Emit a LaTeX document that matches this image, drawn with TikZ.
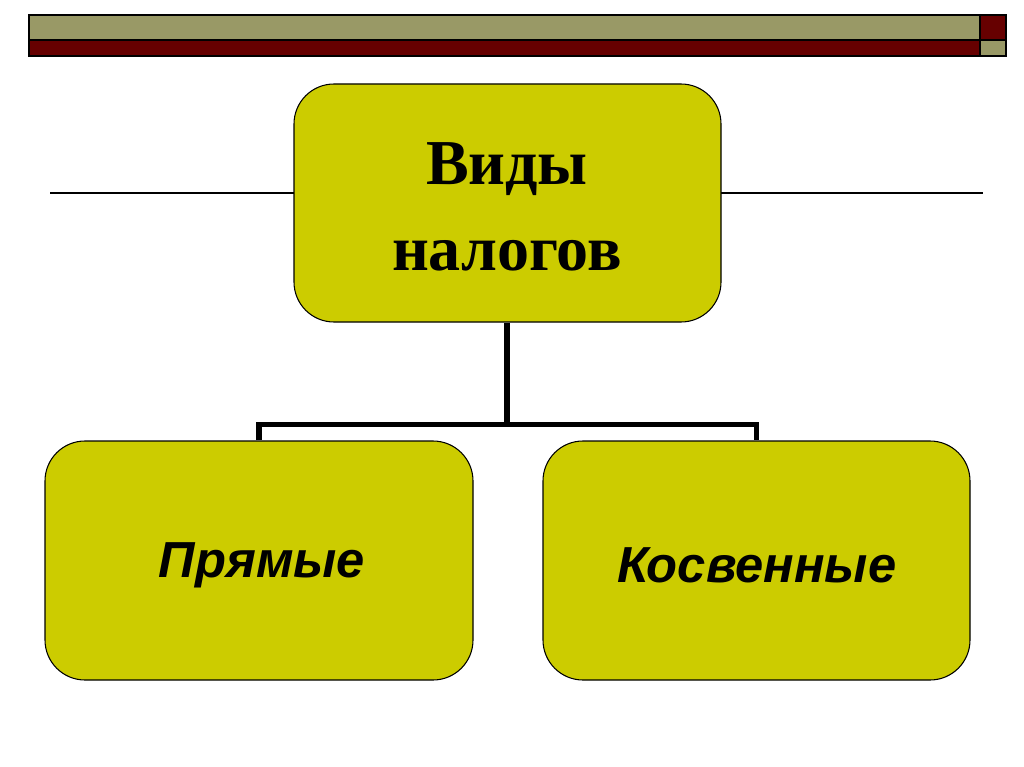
\documentclass[tikz,border=0pt]{standalone}
\usepackage{fontspec}
\setmainfont{Liberation Serif}
\setsansfont{Liberation Sans}
\definecolor{boxfill}{HTML}{CCCC00}
\definecolor{olivebar}{HTML}{999966}
\definecolor{darkred}{HTML}{660000}
\begin{document}
\begin{tikzpicture}[x=0.75pt,y=-0.75pt,
  tbox/.style={draw=black,line width=0.8pt,fill=boxfill,rounded corners=30pt,inner sep=0pt},
  bar/.style={draw=black,line width=1pt},
  btext/.style={font=\sffamily\fontsize{38}{44}\selectfont\bfseries\itshape,inner sep=0pt},
  conn/.style={line width=3.8pt,line cap=butt,line join=miter}]
\useasboundingbox[fill=white] (0,0) rectangle (1024,767);
% top bar
\draw[bar,fill=olivebar] (29,15) rectangle (980,40);
\draw[bar,fill=darkred] (29,40) rectangle (980,56);
\draw[bar,fill=darkred] (980,15) rectangle (1006,40);
\draw[bar,fill=olivebar] (980,40) rectangle (1006,56);
% horizontal rule
\coordinate (hl1) at (50,193);
\coordinate (hl2) at (983,193);
\draw[line width=0.8pt] (hl1) -- (hl2);
% boxes
\node[tbox,minimum width=427*0.75pt,minimum height=238*0.75pt] (top) at (507.5,203) {};
\node[font=\fontsize{48}{64}\selectfont\bfseries,align=center,inner sep=0pt] (toptext) at (507,207) {Виды\\налогов};
\node[tbox,minimum width=428*0.75pt,minimum height=239*0.75pt] (left) at (259,560.5) {};
\node[btext] (lefttext) at (262,565) {Прямые};
\node[tbox,minimum width=427*0.75pt,minimum height=239*0.75pt] (right) at (756.5,560.5) {};
\node[btext] (righttext) at (757,565) {Косвенные};
% connectors
\coordinate (j) at (507,425);
\draw[conn] (top.south -| j) -- (j);
\draw[conn] (left.north) -- ++(0,-16) -| (right.north);
\end{tikzpicture}
\end{document}
